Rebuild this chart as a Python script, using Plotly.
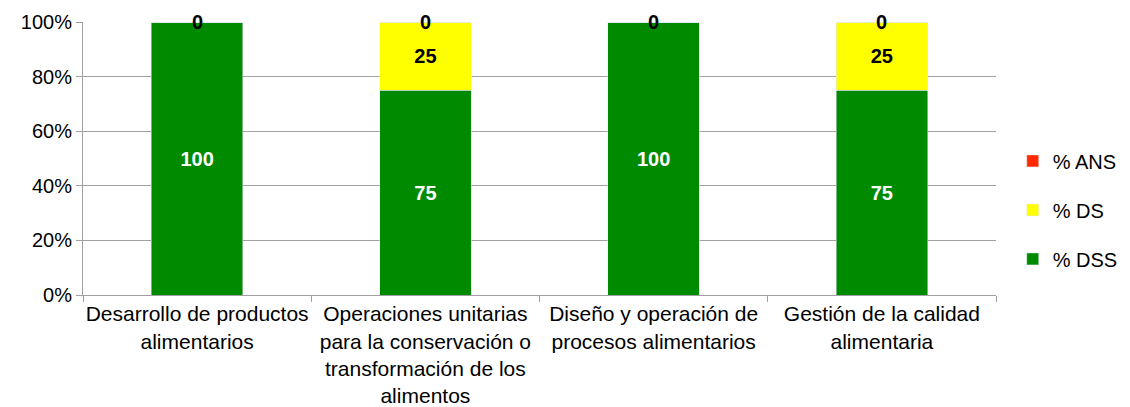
import plotly.graph_objects as go

categories = [
    "Desarrollo de productos<br>alimentarios",
    "Operaciones unitarias<br>para la conservación o<br>transformación de los<br>alimentos",
    "Diseño y operación de<br>procesos alimentarios",
    "Gestión de la calidad<br>alimentaria",
]
dss = [100, 75, 100, 75]
ds = [0, 25, 0, 25]
ans = [0, 0, 0, 0]

green = "#008A00"
yellow = "#FFFF00"
red = "#FF2A00"
font = "Liberation Sans, Arial, sans-serif"

fig = go.Figure()
fig.add_trace(go.Bar(
    x=categories, y=dss, name="% DSS", marker_color=green,
    text=dss, textposition="inside", insidetextanchor="middle",
    textfont=dict(color="white", size=20, family=font, weight="bold"),
    legendgroup="c", legendrank=3, width=0.4,
))
fig.add_trace(go.Bar(
    x=categories, y=ds, name="% DS", marker_color=yellow,
    text=[str(v) if v else "" for v in ds], textposition="inside", insidetextanchor="middle",
    textfont=dict(color="black", size=20, family=font, weight="bold"),
    legendgroup="b", legendrank=2, width=0.4,
))
fig.add_trace(go.Bar(
    x=categories, y=ans, name="% ANS", marker_color=red,
    legendgroup="a", legendrank=1, width=0.4,
))

# labels for the zero-height top segment
tops = [a + b + c for a, b, c in zip(dss, ds, ans)]
for cat, top, v in zip(categories, tops, ans):
    fig.add_annotation(x=cat, y=top, text=f"<b>{v}</b>", showarrow=False,
                       font=dict(color="black", size=20, family=font))

fig.update_layout(
    barmode="stack",
    width=1122, height=399,
    margin=dict(l=75, r=134, t=14, b=112),
    plot_bgcolor="white", paper_bgcolor="white",
    font=dict(family=font, size=20, color="black"),
    showlegend=True,
    legend=dict(
        traceorder="grouped", tracegroupgap=20,
        xref="container", yref="container",
        x=0.8955, xanchor="left", y=0.494, yanchor="middle",
        font=dict(size=20, family=font),
        itemwidth=30,
    ),
    uniformtext=dict(minsize=8, mode="show"),
)
fig.update_xaxes(
    showline=True, linecolor="#a0a0a0", linewidth=1,
    ticks="outside", tickcolor="#a0a0a0", ticklen=6, tickangle=0,
    tickson="boundaries", tickfont=dict(size=21), automargin=False,
)
fig.update_yaxes(
    range=[0, 100], dtick=20, ticksuffix="%",
    showgrid=True, gridcolor="#a0a0a0", gridwidth=1,
    showline=True, linecolor="#a0a0a0", linewidth=1,
    ticks="outside", tickcolor="#a0a0a0", ticklen=6,
    tickfont=dict(size=20), zeroline=False, automargin=False,
)

fig.write_html("out.html")
